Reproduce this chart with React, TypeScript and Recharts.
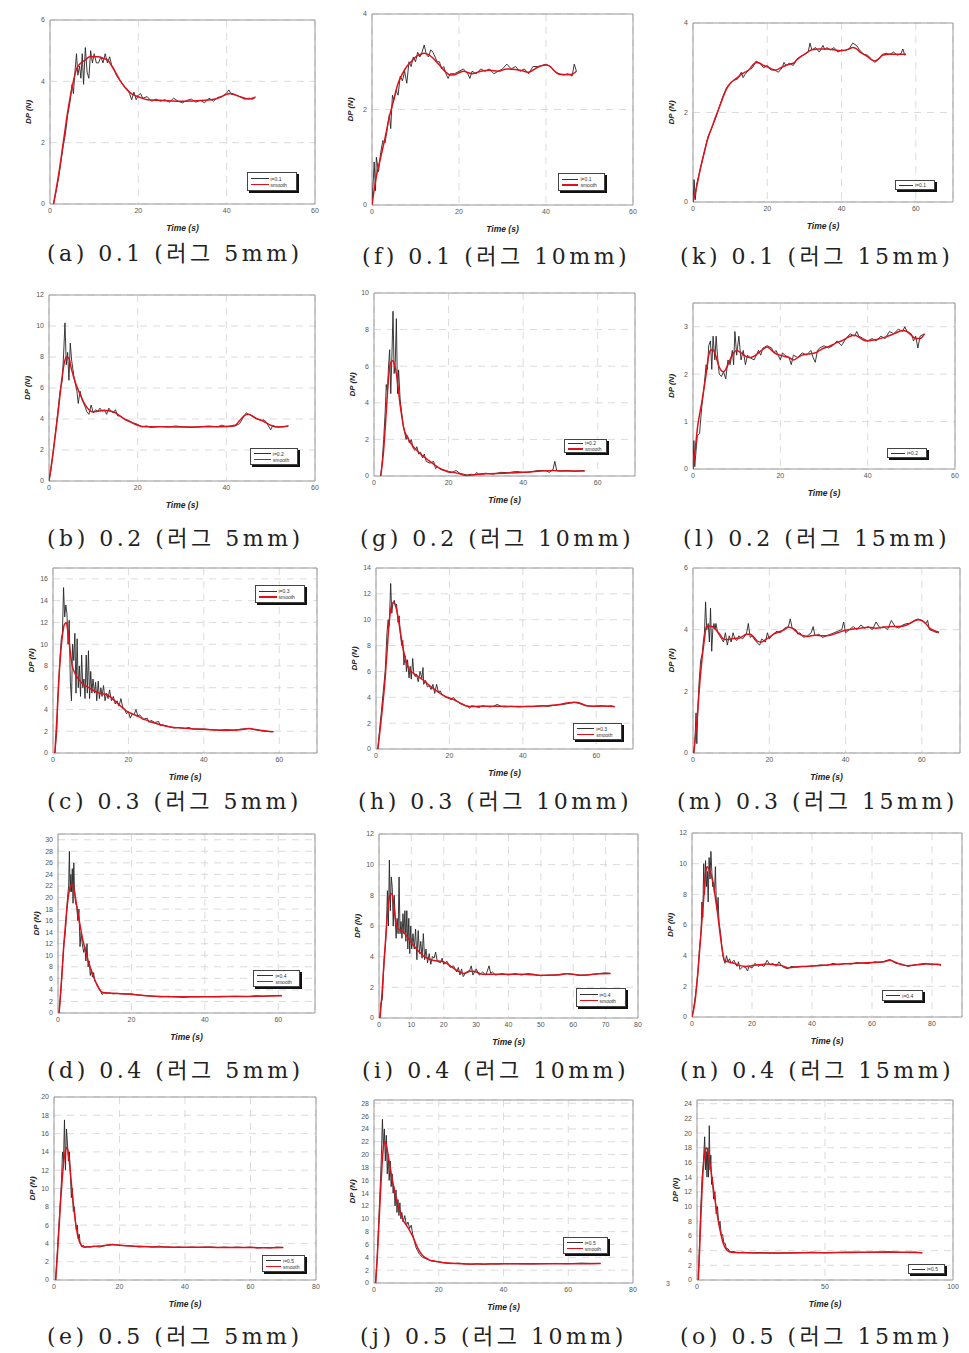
import { CartesianGrid, Line, LineChart, ReferenceArea, XAxis, YAxis } from 'recharts';

type Pt = [number, number];

// (a) i=0.1, lug 5mm
const rawA: Pt[] = [[0.8,0],[1.5,0.5],[2,0.9],[2.5,1.4],[3,1.9],[3.5,2.3],[4,2.9],[4.5,3.3],[5,3.9],[5.3,3.6],[5.7,4.4],[6,4.9],[6.3,4.2],[6.7,4.5],[7,4.1],[7.3,4.9],[7.6,3.9],[8,5.1],[8.4,4.3],[8.8,4.1],[9.2,5],[9.6,4.6],[10,4.9],[10.5,4.6],[11,4.6],[11.5,4.8],[12,4.6],[12.5,4.9],[13,4.6],[13.5,4.8],[14,4.5],[14.5,4.4],[15,4.2],[15.5,4.1],[16,4],[17,3.8],[17.5,3.75],[18,3.6],[18.5,3.4],[19,3.65],[19.5,3.4],[20,3.55],[20.5,3.6],[21,3.45],[22,3.5],[23,3.35],[24,3.42],[25,3.35],[26,3.4],[27,3.32],[28,3.45],[29,3.35],[30,3.3],[31,3.38],[32,3.42],[33,3.32],[34,3.38],[35,3.3],[36,3.45],[37,3.35],[38,3.48],[39,3.5],[40,3.62],[40.5,3.72],[41,3.58],[42,3.55],[43,3.5],[44,3.42],[45,3.45],[46,3.42],[46.5,3.5]];
const smoothA: Pt[] = [[0.8,0],[2,1],[3,2],[4,3],[5,3.8],[6,4.4],[7,4.6],[8,4.7],[9,4.8],[10,4.8],[11,4.8],[12,4.75],[13,4.7],[14,4.5],[15,4.25],[16,4],[17,3.8],[18,3.65],[19,3.55],[20,3.5],[22,3.4],[25,3.38],[30,3.35],[35,3.38],[38,3.45],[40,3.58],[41,3.6],[43,3.5],[45,3.42],[46.5,3.48]];

// (f) i=0.1, lug 10mm
const rawF: Pt[] = [[0,0],[0.5,0.9],[0.8,0.3],[1,1],[1.5,0.7],[2,1.1],[2.5,1.35],[3,1.3],[3.5,1.6],[4,1.9],[4.3,1.6],[4.7,2.3],[5,2.2],[5.5,2.4],[6,2.3],[6.5,2.7],[7,2.6],[7.5,2.8],[8,2.55],[8.5,3],[9,2.9],[9.5,3.1],[10,3],[10.5,3.2],[11,3.1],[11.5,3.2],[12,3.35],[12.5,3.15],[13,3.1],[13.5,3.25],[14,3.2],[14.5,3.1],[15,3],[15.5,3],[16,2.85],[16.5,2.9],[17,2.75],[17.5,2.65],[18,2.75],[19,2.75],[20,2.8],[21,2.85],[22,2.75],[22.5,2.65],[23,2.8],[24,2.75],[25,2.85],[26,2.8],[27,2.85],[28,2.75],[29,2.8],[30,2.85],[31,2.95],[32,2.85],[33,2.9],[34,2.8],[35,2.85],[36,2.75],[37,2.9],[38,2.9],[39,2.92],[40,2.95],[41,2.9],[42,2.8],[43,2.75],[44,2.72],[45,2.75],[46,2.7],[46.5,2.95],[47,2.8]];
const smoothF: Pt[] = [[0,0],[1,0.6],[2,1],[3,1.4],[4,1.85],[5,2.2],[6,2.55],[7,2.75],[8,2.9],[9,3],[10,3.1],[11,3.15],[12,3.18],[13,3.15],[14,3.08],[15,2.98],[16,2.88],[17,2.78],[18,2.72],[19,2.73],[20,2.77],[21,2.8],[23,2.75],[25,2.8],[27,2.82],[29,2.8],[31,2.85],[33,2.84],[35,2.8],[36,2.78],[38,2.88],[40,2.93],[41,2.9],[42,2.8],[43,2.74],[45,2.73],[46,2.74],[47,2.8]];

// (k) i=0.1, lug 15mm
const rawK: Pt[] = [[0,0],[0.3,0.5],[0.6,0.05],[1,0.4],[2,0.75],[3,1.1],[4,1.45],[5,1.65],[6,1.85],[7,2.1],[8,2.35],[9,2.55],[10,2.65],[11,2.72],[12,2.75],[13,2.9],[13.5,2.78],[14,2.85],[15,2.95],[16,3],[17,3.15],[18,3.1],[18.5,3.05],[19,3],[20,3.05],[21,2.95],[22,2.95],[23,2.9],[24,3],[24.5,3.12],[25,3.05],[26,3.1],[27,3.05],[28,3.2],[29,3.25],[30,3.3],[31,3.35],[31.5,3.55],[32,3.4],[33,3.45],[34,3.35],[35,3.5],[35.5,3.4],[36,3.45],[37,3.4],[38,3.45],[39,3.35],[40,3.4],[41,3.38],[42,3.42],[43,3.55],[44,3.5],[45,3.38],[46,3.3],[47,3.28],[48,3.2],[48.5,3.15],[49,3.12],[50,3.2],[51,3.3],[52,3.32],[53,3.3],[54,3.35],[55,3.28],[56,3.32],[56.5,3.42],[57,3.28],[57.3,3.3]];
const smoothK: Pt[] = [[0,0],[1,0.35],[2,0.75],[3,1.1],[4,1.42],[5,1.65],[6,1.88],[7,2.1],[8,2.32],[9,2.52],[10,2.65],[11,2.72],[12,2.78],[13,2.85],[14,2.9],[15,2.95],[16,3.05],[17,3.12],[18,3.1],[19,3.05],[20,3.02],[21,2.98],[22,2.95],[23,2.97],[24,3.02],[25,3.05],[26,3.08],[27,3.1],[28,3.18],[29,3.25],[30,3.3],[32,3.4],[34,3.42],[36,3.42],[38,3.4],[40,3.38],[42,3.42],[43,3.45],[44,3.42],[45,3.35],[46,3.3],[47,3.25],[48,3.18],[49,3.15],[50,3.2],[51,3.28],[53,3.3],[55,3.3],[57.3,3.3]];

// (b) i=0.2, lug 5mm
const rawB: Pt[] = [[0,0],[0.5,0.8],[1,2],[1.5,3.2],[2,4.5],[2.5,5.8],[3,6.5],[3.3,8.2],[3.6,10.2],[3.9,7.5],[4.2,8.3],[4.5,6.5],[4.8,8.9],[5.1,7.8],[5.4,7.2],[5.7,6.6],[6,6.2],[6.3,5.8],[6.6,5],[7,5.8],[7.5,5.2],[8,4.9],[8.5,4.5],[9,4.3],[9.5,4.9],[10,4.4],[10.5,4.6],[11,4.5],[11.5,4.7],[12,4.5],[12.5,4.6],[13,4.3],[13.5,4.7],[14,4.5],[14.5,4.4],[15,4.6],[15.5,4.2],[16,4.2],[17,4],[18,3.9],[19,3.75],[20,3.65],[21,3.5],[22,3.55],[23,3.45],[25,3.52],[27,3.48],[28.5,3.55],[30,3.5],[32,3.45],[34,3.5],[36,3.55],[38,3.5],[39,3.6],[40,3.5],[42,3.55],[43,3.7],[44,4.2],[44.5,4.4],[45,4.3],[46,4.2],[47,4],[48,3.9],[48.5,3.95],[49,3.8],[50,3.3],[50.5,3.6],[51,3.5],[52,3.5],[53,3.5],[54,3.55]];
const smoothB: Pt[] = [[0,0],[1,2],[2,4.3],[3,6.8],[3.5,7.7],[4,8],[4.5,7.9],[5,7.3],[6,6.3],[7,5.6],[8,5],[9,4.6],[10,4.45],[11,4.5],[12,4.55],[13,4.55],[14,4.5],[15,4.4],[16,4.2],[17,4],[18,3.85],[19,3.72],[20,3.6],[21,3.52],[25,3.5],[30,3.48],[35,3.5],[40,3.52],[42,3.6],[43,3.9],[44,4.2],[45,4.3],[46,4.15],[47,4],[48,3.9],[49,3.75],[50,3.6],[51,3.5],[52,3.48],[54,3.55]];

// (g) i=0.2, lug 10mm
const rawG: Pt[] = [[1.8,0],[2.2,0.8],[2.6,2],[3,3.5],[3.3,5],[3.6,4.6],[3.9,6],[4.2,6.9],[4.5,4.5],[4.8,6.5],[5.1,9],[5.4,5.6],[5.7,6.2],[6,8.6],[6.3,4.5],[6.6,5.8],[7,4.2],[7.4,3.5],[7.8,2.8],[8.2,2.4],[8.6,2],[9,2.2],[9.5,1.8],[10,2],[10.5,1.5],[11,1.4],[11.5,1.6],[12,1.2],[12.5,1.3],[13,1],[13.5,1.2],[14,0.8],[15,0.7],[16,0.8],[16.5,0.4],[17,0.5],[18,0.35],[19,0.3],[20,0.25],[21,0.2],[22,0.3],[23,0.15],[24,0.1],[25,0.05],[26,0.1],[27,0.05],[27.5,0.2],[28,0.1],[30,0.15],[32,0.1],[34,0.2],[36,0.18],[38,0.25],[40,0.2],[42,0.22],[44,0.3],[46,0.3],[47,0.2],[48,0.35],[48.5,0.8],[49,0.3],[50,0.28],[52,0.3],[54,0.25],[56,0.3],[56.5,0.28]];
const smoothG: Pt[] = [[1.8,0],[2.5,1.2],[3,2.6],[3.5,4.2],[4,5.6],[4.5,6.2],[5,6.3],[5.5,6.1],[6,5.6],[6.5,4.8],[7,3.9],[7.5,3.2],[8,2.6],[9,2.1],[10,1.75],[11,1.5],[12,1.3],[13,1.1],[14,0.95],[15,0.8],[16,0.65],[17,0.5],[18,0.38],[19,0.3],[20,0.22],[21,0.2],[22,0.17],[23,0.12],[24,0.05],[25,0.03],[26,0.05],[28,0.1],[30,0.12],[35,0.15],[40,0.2],[45,0.28],[48,0.3],[50,0.28],[53,0.28],[56.5,0.28]];

// (l) i=0.2, lug 15mm
const rawL: Pt[] = [[0,0],[0.2,0.6],[0.4,0.05],[0.8,0.5],[1,0.7],[1.5,0.75],[2,1.3],[2.5,1.7],[3,2.2],[3.3,2.1],[3.6,2.6],[4,2.7],[4.3,2.1],[4.6,2.8],[5,2.3],[5.3,2.8],[5.6,2.4],[6,2],[6.5,1.95],[7,2.05],[7.5,1.9],[8,2.3],[8.5,2.2],[9,2.5],[9.3,2.2],[9.6,2.9],[10,2.4],[10.5,2.8],[11,2.3],[11.5,2.5],[12,2.2],[12.5,2.4],[13,2.35],[14,2.3],[15,2.5],[15.5,2.4],[16,2.55],[17,2.6],[18,2.55],[18.5,2.45],[19,2.5],[20,2.3],[20.5,2.45],[21,2.4],[22,2.35],[22.5,2.2],[23,2.4],[24,2.35],[25,2.45],[26,2.4],[27,2.5],[27.5,2.35],[28,2.25],[28.5,2.5],[29,2.55],[30,2.6],[31,2.55],[32,2.6],[33,2.7],[34,2.6],[35,2.75],[36,2.85],[37,2.8],[37.5,2.9],[38,2.8],[39,2.75],[40,2.7],[41,2.75],[42,2.7],[43,2.8],[44,2.75],[45,2.9],[46,2.85],[47,2.95],[48,2.9],[48.5,3],[49,2.9],[50,2.85],[50.5,2.7],[51,2.8],[51.5,2.55],[52,2.8],[53,2.85]];
const smoothL: Pt[] = [[0,0],[0.5,0.4],[1,0.85],[2,1.4],[3,2],[3.5,2.35],[4,2.5],[4.5,2.52],[5,2.45],[5.5,2.3],[6,2.15],[7,2.05],[7.5,2.1],[8,2.2],[9,2.4],[10,2.5],[11,2.45],[12,2.38],[13,2.35],[14,2.38],[15,2.45],[16,2.52],[17,2.57],[18,2.5],[19,2.43],[20,2.4],[21,2.37],[22,2.35],[23,2.3],[24,2.35],[25,2.4],[26,2.42],[27,2.43],[28,2.45],[29,2.5],[30,2.55],[31,2.58],[32,2.62],[33,2.67],[34,2.7],[35,2.75],[36,2.8],[37,2.82],[38,2.78],[39,2.72],[40,2.7],[42,2.73],[44,2.78],[46,2.85],[48,2.92],[49,2.9],[50,2.82],[51,2.75],[52,2.75],[53,2.85]];

// (c) i=0.3, lug 5mm
const rawC: Pt[] = [[0.5,0],[1,2],[1.3,5],[1.6,7],[1.9,9],[2.2,10.5],[2.5,11],[2.8,15.2],[3.1,12.5],[3.4,13.6],[3.7,12.8],[4,10],[4.3,12.2],[4.6,6.5],[4.9,4.8],[5.2,10],[5.5,8.5],[5.8,11],[6.1,5.5],[6.4,10.5],[6.7,6],[7,8],[7.3,5.2],[7.6,9],[7.9,6],[8.2,6.8],[8.5,5],[8.8,9],[9.1,5.5],[9.4,9.4],[9.7,5],[10,7.5],[10.3,5.5],[10.6,6.8],[11,5.5],[11.3,6.5],[11.6,4.8],[12,6.6],[12.3,5],[12.7,6],[13,5.2],[13.4,6.2],[13.8,4.8],[14.2,5.5],[14.6,5],[15,5.8],[15.5,4.8],[16,5.2],[16.5,4.5],[17,4.8],[17.5,4.3],[18,5],[18.5,4.2],[19,4],[19.5,3.6],[20,3.8],[20.5,3.2],[21,3.6],[21.5,3.5],[22,4],[22.5,3.4],[23,3.5],[24,3.1],[25,3.2],[25.5,2.8],[26,3],[27,2.8],[28,2.9],[28.5,2.5],[29,2.6],[30,2.5],[31,2.4],[32,2.3],[33,2.35],[34,2.3],[35,2.25],[36,2.35],[37,2.2],[38,2.2],[40,2.2],[42,2.15],[44,2.1],[46,2.15],[48,2.1],[50,2.2],[52,2.25],[54,2.1],[56,2],[58,1.95]];
const smoothC: Pt[] = [[0.5,0],[1,3],[1.5,6.5],[2,9],[2.5,10.8],[3,11.8],[3.5,12],[4,11],[4.5,9.5],[5,8.2],[6,7.2],[7,6.7],[8,6.3],[9,6.1],[10,5.9],[11,5.7],[12,5.55],[13,5.45],[14,5.4],[15,5.2],[16,4.9],[17,4.6],[18,4.3],[19,4],[20,3.75],[21,3.6],[22,3.45],[23,3.3],[24,3.1],[25,3],[26,2.85],[27,2.75],[28,2.65],[29,2.55],[30,2.45],[32,2.35],[34,2.3],[36,2.25],[38,2.2],[40,2.18],[44,2.1],[48,2.1],[50,2.15],[51,2.2],[52,2.25],[53,2.2],[55,2.1],[57,2],[58.5,1.95]];

// (h) i=0.3, lug 10mm
const rawH: Pt[] = [[0.5,0],[1,1.5],[1.5,3],[2,4.5],[2.5,6],[3,9],[3.3,10],[3.6,9.5],[4,12.8],[4.3,10.5],[4.6,11.3],[5,11.5],[5.3,11],[5.6,11.2],[6,9.8],[6.3,10.3],[6.6,9],[7,8],[7.3,8.4],[7.6,6.5],[8,7.2],[8.3,6],[8.6,6.9],[9,5.5],[9.3,6.4],[9.6,5.4],[10,7],[10.3,5.8],[10.7,5.6],[11,5.8],[11.5,5.2],[12,6],[12.5,5.5],[12.8,6.3],[13,5],[13.5,5.3],[14,4.8],[14.5,4.9],[15,4.6],[15.5,5],[16,4.3],[16.5,5],[17,4.4],[17.5,4.5],[18,4.2],[19,4],[20,3.9],[20.5,3.8],[21,4],[22,3.7],[23,3.5],[24,3.4],[25,3.3],[25.5,3.15],[26,3.35],[27,3.3],[28,3.2],[29,3.35],[30,3.3],[31,3.25],[32,3.3],[33,3.45],[34,3.3],[35,3.25],[37,3.3],[39,3.25],[41,3.3],[43,3.3],[45,3.35],[47,3.3],[49,3.4],[51,3.45],[53,3.55],[54,3.6],[55,3.55],[56,3.45],[57,3.35],[59,3.3],[61,3.35],[63,3.3],[64,3.35],[65,3.25]];
const smoothH: Pt[] = [[0.5,0],[1.5,2.5],[2.5,5.5],[3,7.5],[3.5,9.5],[4,10.8],[4.5,11.3],[5,11.3],[5.5,10.9],[6,10.2],[6.5,9.3],[7,8.4],[7.5,7.6],[8,7],[8.5,6.5],[9,6.2],[10,5.9],[11,5.7],[12,5.5],[13,5.3],[14,5.05],[15,4.8],[16,4.6],[17,4.4],[18,4.2],[19,4.05],[20,3.95],[21,3.85],[22,3.7],[23,3.55],[24,3.4],[25,3.3],[26,3.28],[28,3.3],[30,3.3],[35,3.3],[40,3.28],[45,3.32],[48,3.38],[50,3.45],[52,3.55],[54,3.62],[55,3.6],[56,3.5],[57,3.38],[58,3.32],[60,3.3],[62,3.32],[65,3.28]];

// (m) i=0.3, lug 15mm
const rawM: Pt[] = [[0.2,0],[0.5,0.4],[0.8,1.3],[1,0.3],[1.3,1.5],[1.6,2.3],[2,3],[2.4,3.2],[2.7,3.6],[3,3.9],[3.3,4.9],[3.6,4],[4,4.2],[4.3,3.6],[4.6,4.7],[4.9,3.3],[5.2,4],[5.5,4.2],[5.8,4],[6,4.2],[6.5,3.9],[7,3.8],[7.5,3.7],[8,3.6],[8.5,3.9],[9,3.5],[9.5,3.8],[10,3.6],[10.5,3.9],[11,3.7],[11.5,3.65],[12,3.8],[13,3.7],[14,3.85],[14.5,4.2],[15,3.75],[15.5,3.8],[16,3.7],[17,3.55],[17.5,3.5],[18,3.7],[19,3.6],[19.5,3.9],[20,3.7],[21,3.85],[22,3.95],[23,3.9],[24,4.05],[25,4.1],[25.5,4.35],[26,4.05],[27,4],[27.5,3.85],[28,3.9],[29,3.75],[30,3.8],[31,3.9],[31.5,4.1],[32,3.8],[33,3.85],[34,3.75],[35,3.8],[36,3.85],[37,3.9],[38,3.95],[39,4],[39.5,4.25],[40,3.9],[41,4],[42,4.1],[43,4],[44,4.15],[45,4.05],[46,4.1],[47,4],[48,4.25],[49,4.05],[50,4.1],[51,4],[52,4.3],[53,4.1],[54,4.05],[55,4.15],[56,4.2],[57,4.2],[58,4.3],[59,4.35],[60,4.3],[61,4.2],[61.5,4.3],[62,4],[63,3.95],[64,3.9],[64.5,3.9]];
const smoothM: Pt[] = [[0.2,0],[1,1],[2,2.6],[3,3.7],[3.5,4.1],[4,4.12],[5,4.1],[6,4],[7,3.85],[8,3.7],[9,3.68],[10,3.7],[11,3.72],[12,3.72],[13,3.78],[14,3.85],[15,3.85],[16,3.75],[17,3.62],[18,3.6],[19,3.68],[20,3.75],[21,3.85],[22,3.9],[23,3.95],[24,4],[25,4.08],[26,4.05],[27,3.95],[28,3.85],[29,3.8],[30,3.78],[32,3.82],[34,3.8],[36,3.82],[38,3.9],[40,3.98],[42,4.02],[44,4.05],[46,4.08],[48,4.05],[50,4.08],[52,4.1],[54,4.1],[56,4.15],[58,4.28],[59,4.32],[60,4.3],[61,4.2],[62,4.05],[63,3.98],[64.5,3.92]];

// (d) i=0.4, lug 5mm
const rawD: Pt[] = [[0.3,0],[0.8,4],[1.2,8],[1.6,12],[2,14],[2.3,17],[2.6,20],[2.9,22],[3.1,28],[3.3,21],[3.5,24],[3.7,21],[3.9,25],[4.1,19],[4.3,26],[4.5,21],[4.8,19],[5.1,18.5],[5.4,16],[5.7,18],[6,11.5],[6.3,14],[6.6,12],[7,10.5],[7.3,11.5],[7.6,9],[7.9,12],[8.2,8],[8.5,9],[8.8,6.5],[9.1,7.5],[9.4,6.2],[9.7,7],[10,5.5],[10.5,5.2],[11,4.5],[11.5,4],[12,3.2],[12.5,3.5],[13,3.4],[14,3.5],[15,3.3],[16,3.4],[18,3.3],[20,3.3],[22,3.1],[24,3],[26,2.9],[28,2.8],[30,2.9],[32,2.8],[34,2.7],[36,2.8],[38,2.8],[40,2.85],[44,2.8],[48,2.9],[52,2.85],[54,3],[56,2.9],[58,3],[61,3.05]];
const smoothD: Pt[] = [[0.3,0],[1,6],[1.5,11],[2,15],[2.5,18.5],[3,21],[3.5,22],[4,22.2],[4.5,21],[5,19],[5.5,17],[6,15.2],[6.5,13.5],[7,12],[7.5,10.8],[8,9.5],[8.5,8.5],[9,7.5],[9.5,6.6],[10,5.8],[10.5,5],[11,4.4],[11.5,3.9],[12,3.6],[13,3.5],[15,3.4],[18,3.3],[20,3.25],[22,3.1],[25,2.95],[28,2.85],[32,2.8],[36,2.8],[40,2.82],[45,2.85],[50,2.85],[55,2.9],[61,3]];

// (i) i=0.4, lug 10mm
const rawI: Pt[] = [[0.3,0],[0.6,1],[1,1.2],[1.3,2.6],[1.6,3.8],[2,4.8],[2.3,6],[2.6,8.3],[2.9,6],[3.2,10.3],[3.5,7],[3.8,9.2],[4.1,8.5],[4.4,6],[4.7,8],[5,6.4],[5.3,5.2],[5.6,6.5],[5.9,5.5],[6.2,9.2],[6.5,5.5],[6.8,6.3],[7.1,5.2],[7.4,6.8],[7.7,5.5],[8,7],[8.3,5],[8.6,7],[8.9,4.5],[9.2,6.5],[9.5,4.2],[9.8,6],[10.1,4.5],[10.5,5.5],[10.9,4.5],[11.3,5.8],[11.7,3.8],[12.1,5.7],[12.5,4.2],[12.9,5],[13.3,3.9],[13.7,5.5],[14.1,3.8],[14.5,4.5],[15,3.6],[15.5,4.2],[16,3.5],[16.5,4],[17,3.9],[17.5,4.3],[18,3.7],[19,3.6],[19.5,3.9],[20,3.5],[21,3.7],[22,3.3],[23,3.4],[24,3],[24.5,3.3],[25,2.8],[25.5,3.2],[26,2.7],[27,3],[28,3.1],[28.5,3.4],[29,2.8],[30,3.2],[31,2.8],[32,3],[33,2.8],[34,3.4],[34.5,2.9],[35,3],[36,2.8],[38,2.9],[40,2.8],[42,2.9],[44,2.8],[46,2.9],[48,2.85],[50,2.75],[52,2.8],[54,2.8],[56,2.85],[58,2.9],[60,2.85],[62,2.8],[64,2.8],[66,2.85],[68,2.9],[70,2.95],[71.5,2.9]];
const smoothI: Pt[] = [[0.3,0],[1,1.8],[1.5,3.5],[2,5],[2.5,6.5],[3,7.6],[3.5,8.1],[4,8.1],[4.5,7.5],[5,6.6],[5.5,6],[6,5.8],[7,5.7],[8,5.5],[9,5.2],[10,4.9],[11,4.65],[12,4.4],[13,4.2],[14,4],[15,3.9],[16,3.8],[17,3.75],[18,3.72],[19,3.7],[20,3.65],[21,3.55],[22,3.4],[23,3.25],[24,3.1],[25,3],[26,2.9],[27,2.95],[28,3.05],[29,3.05],[30,3],[31,2.92],[32,2.85],[34,2.85],[36,2.85],[40,2.85],[45,2.85],[50,2.78],[55,2.8],[58,2.88],[60,2.85],[62,2.78],[65,2.82],[68,2.88],[71.5,2.9]];

// (n) i=0.4, lug 15mm
const rawN: Pt[] = [[0,0],[0.5,0.5],[1,1.2],[1.5,2],[2,3],[2.5,4.5],[3,5.5],[3.3,7.5],[3.6,6.5],[3.9,10],[4.2,8],[4.5,10.2],[4.8,8.5],[5.1,9.5],[5.4,7.5],[5.7,10.4],[6,9],[6.3,10.8],[6.6,9.5],[6.9,8.5],[7.2,8.8],[7.5,8],[7.8,9.8],[8.1,7.5],[8.4,7],[8.7,7.8],[9,6.2],[9.5,5.5],[10,4.5],[10.5,3.8],[11,3.5],[11.5,4],[12,3.6],[12.5,3.8],[13,3.5],[14,3.7],[15,3.3],[15.5,3.6],[16,3.1],[17,3.3],[18,3.2],[18.5,3],[19,3.3],[20,3.2],[21,3.5],[22,3.3],[23,3.4],[24,3.3],[25,3.7],[26,3.4],[27,3.5],[28,3.3],[29,3.6],[30,3.3],[31,3.2],[32,3.15],[33,3.3],[35,3.25],[37,3.3],[39,3.3],[41,3.35],[43,3.4],[45,3.35],[47,3.5],[49,3.4],[51,3.5],[53,3.45],[55,3.55],[57,3.5],[59,3.5],[61,3.6],[63,3.55],[65,3.7],[66,3.75],[67,3.6],[68,3.5],[70,3.45],[72,3.3],[74,3.4],[76,3.45],[78,3.5],[80,3.4],[82,3.45],[83,3.35]];
const smoothN: Pt[] = [[0,0],[1,1],[2,3],[3,5.5],[4,8],[4.5,9.3],[5,9.8],[5.5,9.7],[6,9.5],[6.5,9.2],[7,8.8],[7.5,8.2],[8,7.5],[8.5,6.8],[9,6],[9.5,5.2],[10,4.5],[10.5,3.9],[11,3.65],[12,3.6],[14,3.5],[16,3.35],[18,3.3],[20,3.35],[22,3.4],[25,3.45],[28,3.4],[30,3.35],[32,3.2],[34,3.25],[38,3.3],[42,3.35],[46,3.4],[50,3.45],[55,3.5],[60,3.55],[64,3.6],[66,3.7],[68,3.55],[70,3.4],[72,3.35],[75,3.4],[78,3.45],[80,3.45],[83,3.4]];

// (e) i=0.5, lug 5mm
const rawE: Pt[] = [[0.5,0],[1,3],[1.5,6],[2,9],[2.3,11],[2.6,14],[2.9,13],[3.2,17.5],[3.5,12],[3.8,16.5],[4.1,15],[4.4,13],[4.7,14],[5,11.5],[5.3,9],[5.6,10],[5.9,7.5],[6.2,8],[6.5,6.5],[6.8,5.5],[7.1,6],[7.4,4.5],[7.7,5],[8,4],[8.5,3.6],[9,3.8],[9.5,3.5],[10,3.7],[11,3.6],[12,3.7],[14,3.6],[16,3.8],[18,3.9],[20,3.8],[22,3.75],[24,3.7],[26,3.6],[28,3.65],[30,3.6],[32,3.7],[34,3.6],[36,3.55],[38,3.6],[40,3.55],[42,3.6],[44,3.55],[46,3.6],[48,3.6],[50,3.55],[52,3.6],[54,3.55],[56,3.6],[58,3.55],[60,3.6],[62,3.5],[64,3.55],[66,3.5],[68,3.6],[70,3.55]];
const smoothE: Pt[] = [[0.5,0],[1,2.5],[1.5,5.5],[2,8.5],[2.5,11],[3,13],[3.5,14.2],[4,14.5],[4.5,13.5],[5,11.8],[5.5,9.8],[6,8],[6.5,6.5],[7,5.3],[7.5,4.5],[8,4],[8.5,3.75],[9,3.6],[10,3.6],[12,3.65],[15,3.75],[18,3.85],[20,3.8],[25,3.7],[30,3.62],[35,3.6],[40,3.58],[45,3.58],[50,3.56],[55,3.56],[60,3.55],[65,3.52],[70,3.55]];

// (j) i=0.5, lug 10mm
const rawJ: Pt[] = [[0.5,0],[1,4],[1.5,10],[2,16],[2.3,20],[2.6,25.5],[2.9,21],[3.2,24],[3.5,19],[3.8,23],[4.1,17],[4.4,20],[4.7,16],[5,19],[5.3,15],[5.6,17],[5.9,14],[6.2,15],[6.5,12],[6.8,14.5],[7.1,11],[7.4,13],[7.7,10.5],[8,12.5],[8.3,10],[8.6,11],[9,9.5],[9.5,10.5],[10,9],[10.5,9.5],[11,8.5],[11.5,9],[12,7.5],[12.5,6.5],[13,5.5],[13.5,5],[14,4.5],[15,4],[16,3.8],[17,3.6],[18,3.4],[20,3.3],[22,3.1],[24,3],[26,3.1],[28,3],[30,2.9],[32,3],[34,2.9],[36,3],[38,2.95],[40,3],[44,3],[48,2.95],[52,3],[56,3.05],[60,3],[64,3.1],[68,3.05],[70,3.05]];
const smoothJ: Pt[] = [[0.5,0],[1,4],[1.5,9],[2,14],[2.5,18.5],[3,21.5],[3.5,22],[4,21],[4.5,19.5],[5,18],[5.5,16.5],[6,15.2],[6.5,14],[7,13],[7.5,12],[8,11.2],[8.5,10.5],[9,9.8],[10,9],[11,8.2],[12,7.2],[13,6],[14,5],[15,4.3],[16,3.9],[17,3.6],[18,3.45],[20,3.3],[22,3.15],[25,3.05],[30,2.95],[40,3],[50,3],[60,3],[70,3.05]];

// (o) i=0.5, lug 15mm
const rawO: Pt[] = [[0.5,0],[1,5],[1.5,10],[2,14],[2.5,16],[3,19.5],[3.3,15],[3.6,17.5],[3.9,14],[4.2,18],[4.5,14],[4.8,21],[5.1,15],[5.4,17],[5.7,13],[6,14],[6.5,11],[7,12],[7.5,9],[8,10],[8.5,7.5],[9,8],[9.5,6],[10,6.2],[10.5,5],[11,5],[11.5,4.2],[12,4.3],[13,3.8],[14,3.9],[16,3.7],[18,3.8],[20,3.7],[25,3.75],[30,3.65],[35,3.7],[40,3.7],[45,3.8],[50,3.7],[55,3.75],[60,3.8],[65,3.75],[70,3.8],[75,3.85],[80,3.75],[85,3.8],[88,3.7]];
const smoothO: Pt[] = [[0.5,0],[1,4],[1.5,8.5],[2,12.5],[2.5,15.5],[3,17.2],[3.5,18],[4,17.8],[4.5,17],[5,16],[5.5,14.8],[6,13.5],[6.5,12.2],[7,11],[7.5,9.8],[8,8.7],[8.5,7.7],[9,6.8],[9.5,6],[10,5.3],[10.5,4.8],[11,4.4],[12,4],[13,3.8],[15,3.75],[20,3.7],[30,3.68],[40,3.7],[50,3.72],[60,3.75],[70,3.78],[80,3.78],[88,3.72]];

const ticks0to60 = [0, 20, 40, 60];
const ticks0to80 = [0, 20, 40, 60, 80];
const ticksBy10 = [0, 10, 20, 30, 40, 50, 60, 70, 80];
const ticks0to100 = [0, 50, 100];
const yTicks = (max: number, step: number) => {
  const out: number[] = [];
  for (let v = 0; v <= max + 1e-9; v += step) out.push(Math.round(v * 10) / 10);
  return out;
};

interface LegendSpec { label: string; smooth: boolean; x: number; y: number; w: number; h: number }
interface PanelSpec {
  id: string;
  caption: string;
  box: [number, number, number, number];
  xMax: number;
  xTicks: number[];
  yMax: number;
  yTicks: number[];
  raw: Pt[];
  smooth: Pt[];
  legend: LegendSpec | null;
  capX: number;
  capY: number;
}

const panels: PanelSpec[] = [
  { id: 'a', caption: '(a) 0.1 (러그 5mm)', box: [50, 20, 315, 204], xMax: 60, xTicks: ticks0to60, yMax: 6, yTicks: yTicks(6, 2), raw: rawA, smooth: smoothA, legend: { label: 'i=0.1', smooth: true, x: 247, y: 172, w: 50, h: 19 }, capX: 47, capY: 254 },
  { id: 'f', caption: '(f) 0.1 (러그 10mm)', box: [372, 14, 633, 205], xMax: 60, xTicks: ticks0to60, yMax: 4, yTicks: yTicks(4, 2), raw: rawF, smooth: smoothF, legend: { label: 'i=0.1', smooth: true, x: 558, y: 173, w: 47, h: 18 }, capX: 362, capY: 257 },
  { id: 'k', caption: '(k) 0.1 (러그 15mm)', box: [693, 23, 953, 202], xMax: 70, xTicks: ticks0to60, yMax: 4, yTicks: yTicks(4, 2), raw: rawK, smooth: smoothK, legend: { label: 'i=0.1', smooth: false, x: 895, y: 180, w: 40, h: 10 }, capX: 680, capY: 257 },
  { id: 'b', caption: '(b) 0.2 (러그 5mm)', box: [49, 295, 315, 481], xMax: 60, xTicks: ticks0to60, yMax: 12, yTicks: yTicks(12, 2), raw: rawB, smooth: smoothB, legend: { label: 'i=0.2', smooth: true, x: 250, y: 448, w: 48, h: 17 }, capX: 47, capY: 539 },
  { id: 'g', caption: '(g) 0.2 (러그 10mm)', box: [374, 293, 635, 476], xMax: 70, xTicks: ticks0to60, yMax: 10, yTicks: yTicks(10, 2), raw: rawG, smooth: smoothG, legend: { label: 'i=0.2', smooth: true, x: 564, y: 439, w: 43, h: 14 }, capX: 360, capY: 539 },
  { id: 'l', caption: '(l) 0.2 (러그 15mm)', box: [693, 303, 955, 469], xMax: 60, xTicks: ticks0to60, yMax: 3.5, yTicks: yTicks(3, 1), raw: rawL, smooth: smoothL, legend: { label: 'i=0.2', smooth: false, x: 887, y: 448, w: 40, h: 10 }, capX: 683, capY: 539 },
  { id: 'c', caption: '(c) 0.3 (러그 5mm)', box: [53, 568, 317, 753], xMax: 70, xTicks: ticks0to60, yMax: 17, yTicks: yTicks(16, 2), raw: rawC, smooth: smoothC, legend: { label: 'i=0.3', smooth: true, x: 255, y: 585, w: 50, h: 18 }, capX: 47, capY: 802 },
  { id: 'h', caption: '(h) 0.3 (러그 10mm)', box: [376, 568, 633, 749], xMax: 70, xTicks: ticks0to60, yMax: 14, yTicks: yTicks(14, 2), raw: rawH, smooth: smoothH, legend: { label: 'i=0.3', smooth: true, x: 573, y: 723, w: 49, h: 17 }, capX: 358, capY: 802 },
  { id: 'm', caption: '(m) 0.3 (러그 15mm)', box: [693, 568, 960, 753], xMax: 70, xTicks: ticks0to60, yMax: 6, yTicks: yTicks(6, 2), raw: rawM, smooth: smoothM, legend: null, capX: 677, capY: 802 },
  { id: 'd', caption: '(d) 0.4 (러그 5mm)', box: [58, 834, 315, 1013], xMax: 70, xTicks: ticks0to60, yMax: 31, yTicks: yTicks(30, 2), raw: rawD, smooth: smoothD, legend: { label: 'i=0.4', smooth: true, x: 253, y: 970, w: 47, h: 17 }, capX: 47, capY: 1071 },
  { id: 'i', caption: '(i) 0.4 (러그 10mm)', box: [379, 834, 638, 1018], xMax: 80, xTicks: ticksBy10, yMax: 12, yTicks: yTicks(12, 2), raw: rawI, smooth: smoothI, legend: { label: 'i=0.4', smooth: true, x: 576, y: 988, w: 50, h: 19 }, capX: 362, capY: 1071 },
  { id: 'n', caption: '(n) 0.4 (러그 15mm)', box: [692, 833, 962, 1017], xMax: 90, xTicks: ticks0to80, yMax: 12, yTicks: yTicks(12, 2), raw: rawN, smooth: smoothN, legend: { label: 'i=0.4', smooth: false, x: 882, y: 990, w: 41, h: 11 }, capX: 680, capY: 1071 },
  { id: 'e', caption: '(e) 0.5 (러그 5mm)', box: [54, 1097, 316, 1280], xMax: 80, xTicks: ticks0to80, yMax: 20, yTicks: yTicks(20, 2), raw: rawE, smooth: smoothE, legend: { label: 'i=0.5', smooth: true, x: 262, y: 1255, w: 43, h: 17 }, capX: 47, capY: 1337 },
  { id: 'j', caption: '(j) 0.5 (러그 10mm)', box: [374, 1100, 633, 1283], xMax: 80, xTicks: ticks0to80, yMax: 28.5, yTicks: yTicks(28, 2), raw: rawJ, smooth: smoothJ, legend: { label: 'i=0.5', smooth: true, x: 563, y: 1237, w: 45, h: 17 }, capX: 360, capY: 1337 },
  { id: 'o', caption: '(o) 0.5 (러그 15mm)', box: [697, 1100, 953, 1280], xMax: 100, xTicks: ticks0to100, yMax: 24.5, yTicks: yTicks(24, 2), raw: rawO, smooth: smoothO, legend: { label: 'i=0.5', smooth: false, x: 908, y: 1264, w: 37, h: 10 }, capX: 680, capY: 1337 },
];

const toPts = (arr: Pt[]) => arr.map(([t, v]) => ({ t, v }));

const YW = 40;
const MT = 6;
const MR = 6;
const XH = 30;
const axisFont = "'Liberation Sans', Arial, sans-serif";

function LegendBox({ spec }: { spec: LegendSpec }) {
  const rows = spec.smooth ? [{ c: '#333', l: spec.label }, { c: '#e0101a', l: 'smooth' }] : [{ c: '#333', l: spec.label }];
  return (
    <div
      style={{
        position: 'absolute',
        left: spec.x,
        top: spec.y,
        width: spec.w,
        height: spec.h,
        background: '#fff',
        border: '1px solid #444',
        boxShadow: '2px 2px 0 #111',
        boxSizing: 'border-box',
        fontFamily: axisFont,
        fontSize: 5,
        color: '#333',
        display: 'flex',
        flexDirection: 'column',
        justifyContent: 'center',
        padding: '0 3px',
      }}
    >
      {rows.map((r) => (
        <div key={r.l} style={{ display: 'flex', alignItems: 'center', height: 6 }}>
          <div style={{ width: spec.w * 0.35, height: r.c === '#333' ? 1 : 1.5, background: r.c, marginRight: 2 }} />
          <span>{r.l}</span>
        </div>
      ))}
    </div>
  );
}

function Panel({ p }: { p: PanelSpec }) {
  const [L, T, R, B] = p.box;
  const w = R - L;
  const h = B - T;
  return (
    <>
      <div style={{ position: 'absolute', left: L - YW, top: T - MT }}>
        <LineChart width={YW + w + MR} height={MT + h + XH} margin={{ top: MT, right: MR, bottom: 0, left: 0 }}>
          <CartesianGrid strokeDasharray="7 6" stroke="#d2d2d2" strokeWidth={0.8} />
          <XAxis
            type="number"
            dataKey="t"
            domain={[0, p.xMax]}
            ticks={p.xTicks}
            interval={0}
            allowDataOverflow
            height={XH}
            axisLine={false}
            tickLine={false}
            tickSize={3}
            tickMargin={1}
            tick={{ fontSize: 7, fill: '#555', fontFamily: axisFont }}
            label={{ value: 'Time (s)', position: 'insideBottom', offset: 3, style: { fontSize: 8.5, fontWeight: 'bold', fontStyle: 'italic', fill: '#222', fontFamily: axisFont } }}
          />
          <YAxis
            type="number"
            domain={[0, p.yMax]}
            ticks={p.yTicks}
            interval={0}
            allowDataOverflow
            width={YW}
            axisLine={false}
            tickLine={false}
            tickSize={3}
            tickMargin={2}
            tick={{ fontSize: 7, fill: '#555', fontFamily: axisFont }}
            label={{ value: 'DP (N)', angle: -90, position: 'insideLeft', offset: 18, style: { textAnchor: 'middle', fontSize: 8, fontWeight: 'bold', fontStyle: 'italic', fill: '#222', fontFamily: axisFont } }}
          />
          <ReferenceArea x1={0} x2={p.xMax} y1={0} y2={p.yMax} fill="none" stroke="#9a9a9a" strokeWidth={1} ifOverflow="visible" />
          <Line data={toPts(p.raw)} dataKey="v" type="linear" stroke="#262626" strokeWidth={0.9} dot={false} isAnimationActive={false} />
          <Line data={toPts(p.smooth)} dataKey="v" type="monotone" stroke="#e0101a" strokeWidth={1.5} dot={false} isAnimationActive={false} />
        </LineChart>
      </div>
      {p.legend && <LegendBox spec={p.legend} />}
      <div
        style={{
          position: 'absolute',
          left: p.capX,
          top: p.capY - 14,
          fontFamily: "'DejaVu Serif', 'Noto Sans CJK KR', serif",
          fontSize: 22,
          lineHeight: '28px',
          letterSpacing: 3.5,
          whiteSpace: 'pre',
          color: '#222',
        }}
      >
        {p.caption}
      </div>
    </>
  );
}

export default function App() {
  return (
    <div style={{ position: 'relative', width: 969, height: 1353, background: '#fff', overflow: 'hidden' }}>
      <style>{'body{margin:0}'}</style>
      {panels.map((p) => (
        <Panel key={p.id} p={p} />
      ))}
      <div style={{ position: 'absolute', left: 666, top: 1280, fontSize: 7, fontFamily: axisFont, color: '#555' }}>3</div>
    </div>
  );
}
